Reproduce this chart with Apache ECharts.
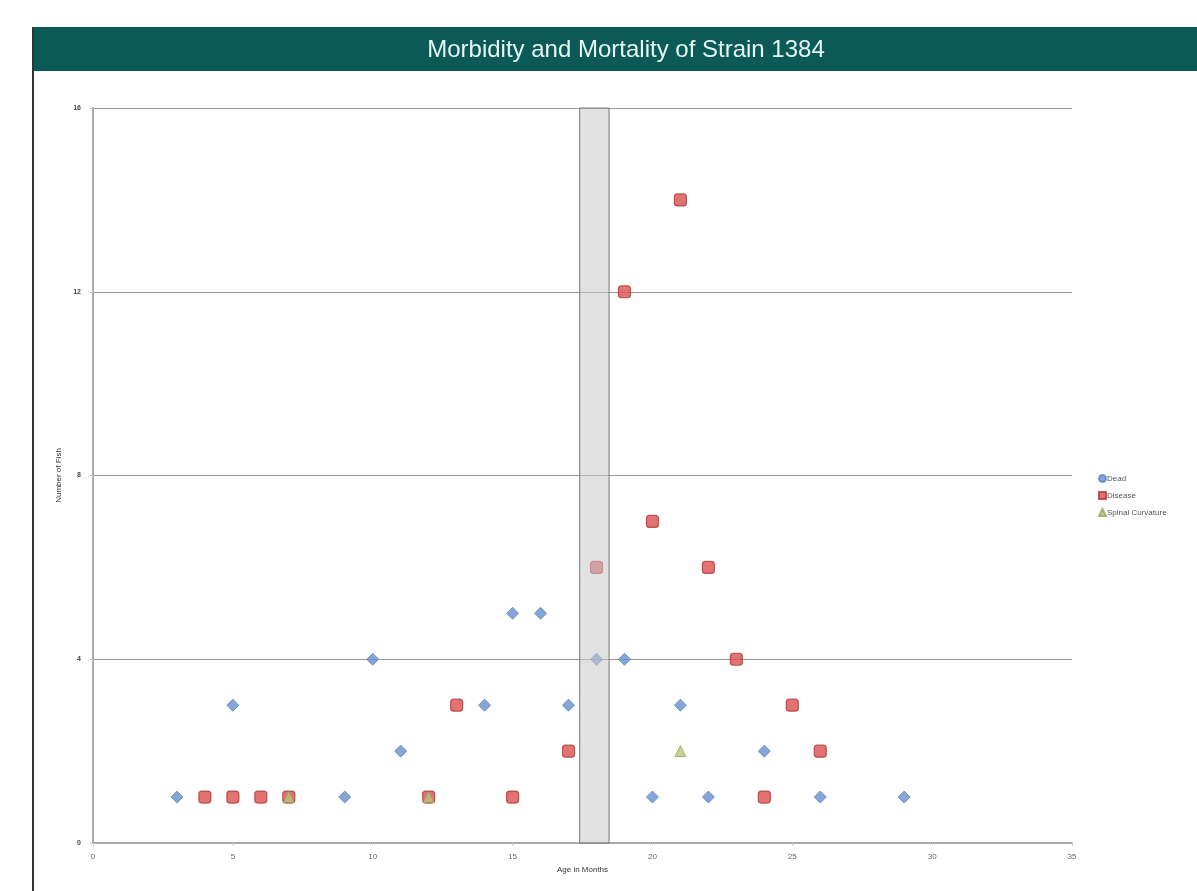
<!DOCTYPE html>
<html><head><meta charset="utf-8">
<script src="https://cdn.jsdelivr.net/npm/echarts@6/dist/echarts.min.js"></script>
<style>html,body{margin:0;padding:0;background:#fff}#c{width:1197px;height:891px}</style>
</head><body><div id="c"></div>
<script>
const titleText = "Morbidity and Mortality of Strain 1384";
const xName = "Age in Months";
const yName = "Number of Fish";
const seriesNames = ["Dead", "Disease", "Spinal Curvature"];
const deadData = [[3,1],[5,3],[9,1],[10,4],[11,2],[14,3],[15,5],[16,5],[17,3],[18,4],[19,4],[20,1],[21,3],[22,1],[24,2],[26,1],[29,1]];
const diseaseData = [[4,1],[5,1],[6,1],[7,1],[12,1],[13,3],[15,1],[17,2],[18,6],[19,12],[20,7],[21,14],[22,6],[23,4],[24,1],[25,3],[26,2]];
const spinalData = [[7,1],[12,1],[21,2]];
const bandRange = [17.4, 18.45];

const chart = echarts.init(document.getElementById('c'));
const font = 'Helvetica, "Liberation Sans", Arial, sans-serif';
chart.setOption({
  animation: false,
  backgroundColor: '#fff',
  textStyle: {fontFamily: font},
  graphic: [
    {type:'rect', shape:{x:33,y:27,width:1164,height:44}, style:{fill:'#0b5a58'}, z:0},
    {type:'rect', shape:{x:32,y:27,width:2,height:864}, style:{fill:'#333'}, z:0}
  ],
  title: {text: titleText, left: 621, top: 33, textAlign: 'center',
    textStyle:{color:'#e6f6f2', fontSize:24, fontWeight:'normal', fontFamily: font}},
  legend: {
    orient:'vertical', left: 1093, top: 469, itemWidth: 7, itemHeight: 7, itemGap: 8,
    data: [{name:seriesNames[0], icon:'circle'}, {name:seriesNames[1], icon:'rect'}, {name:seriesNames[2]}],
    textStyle:{fontSize:8, color:'#555', padding:[0,0,0,-4]}
  },
  grid: {left: 93, right: 125, top: 108, bottom: 48, containLabel:false},
  xAxis: {
    type:'value', min:0, max:35, interval:5,
    name: xName, nameLocation:'middle', nameGap: 22,
    nameTextStyle:{fontSize:8, color:'#333'},
    axisLine:{show:true, lineStyle:{color:'#aaa', width:2}},
    axisTick:{show:true, length:3, lineStyle:{color:'#ccc'}},
    axisLabel:{fontSize:8, color:'#666', margin:10},
    splitLine:{show:false}
  },
  yAxis: {
    type:'value', min:0, max:16, interval:4,
    name: yName, nameLocation:'middle', nameGap: 30, nameRotate: 90,
    nameTextStyle:{fontSize:8, color:'#333'},
    axisLine:{show:true, lineStyle:{color:'#aaa', width:2}},
    axisTick:{show:true, length:3, lineStyle:{color:'#ccc'}},
    axisLabel:{fontSize:7, color:'#444', fontWeight:'bold', margin:12},
    splitLine:{show:true, lineStyle:{color:'#999', width:1}}
  },
  series: [
    {name: seriesNames[0], type:'scatter', data: deadData, symbol:'diamond', symbolSize:12,
      itemStyle:{color:'#6790cd', borderColor:'#5a84c2', borderWidth:1}, z:3},
    {name: seriesNames[1], type:'scatter', data: diseaseData, symbol:'roundRect', symbolSize:12,
      itemStyle:{color:'#dc5050', borderColor:'#a83a3a', borderWidth:1.2}, z:4,
      markArea: {silent:true, z:10,
        itemStyle:{color:'rgba(200,200,200,0.55)', borderColor:'#777', borderWidth:1},
        data: [[{xAxis: bandRange[0]}, {xAxis: bandRange[1]}]]}},
    {name: seriesNames[2], type:'scatter', data: spinalData, symbol:'triangle', symbolSize:11,
      itemStyle:{color:'#b8c27c', borderColor:'#9aa35e', borderWidth:1}, z:5}
  ]
});
</script></body></html>
